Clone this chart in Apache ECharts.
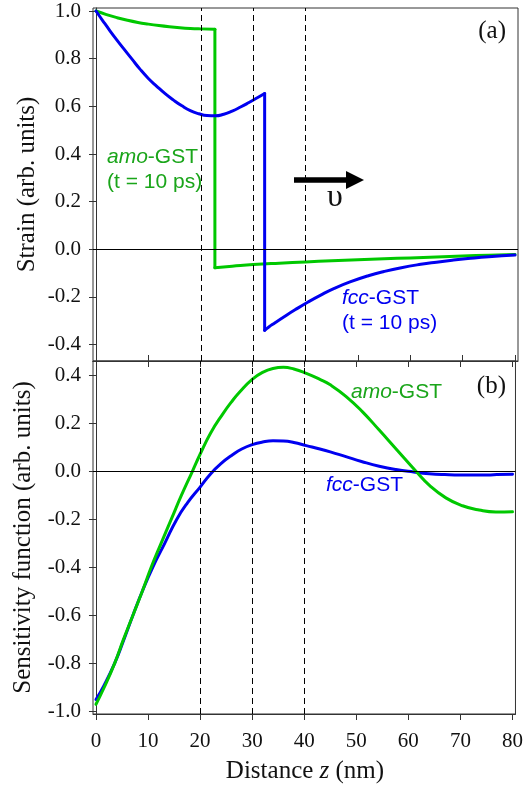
<!DOCTYPE html>
<html>
<head>
<meta charset="utf-8">
<script src="https://cdn.jsdelivr.net/npm/echarts@6/dist/echarts.min.js"></script>
<style>
html,body{margin:0;padding:0;background:#fff;}
#chart{width:526px;height:788px;}
</style>
</head>
<body>
<div id="chart"></div>
<script>
// ---- data ----
const xTicks = [0, 10, 20, 30, 40, 50, 60, 70, 80];
const strainTicks = [-0.4, -0.2, 0.0, 0.2, 0.4, 0.6, 0.8, 1.0];
const sensTicks = [-1.0, -0.8, -0.6, -0.4, -0.2, 0.0, 0.2, 0.4];
const dashX = [20, 30, 40];

// strain (a): before and after the front
const amoStrainFront = [
  [0, 1.000], [2, 0.985], [4, 0.972], [6, 0.961], [8, 0.952], [10, 0.945],
  [12, 0.939], [14, 0.934], [16, 0.930], [18, 0.927], [20, 0.925], [22.7, 0.923]
];
const amoStrainJump = [[22.7, 0.923], [22.7, -0.077]];
const amoStrainTail = [
  [22.7, -0.077], [26, -0.071], [30, -0.064], [35, -0.058], [40, -0.053],
  [45, -0.048], [50, -0.044], [55, -0.040], [60, -0.036], [65, -0.032],
  [70, -0.028], [75, -0.025], [80, -0.022]
];
const fccStrainFront = [
  [0, 1.000], [1.3, 0.959], [2.7, 0.916], [4, 0.878], [5.2, 0.844], [6.8, 0.800],
  [8.4, 0.756], [10, 0.717], [11.6, 0.684], [13.2, 0.653], [14.8, 0.626],
  [16.4, 0.602], [18, 0.582], [19.6, 0.569], [21.2, 0.561], [22.8, 0.560],
  [24.4, 0.567], [26, 0.580], [27.6, 0.597], [29.2, 0.616], [30.8, 0.636], [32.2, 0.654]
];
const fccStrainJump = [[32.2, 0.654], [32.2, -0.340]];
const fccStrainTail = [
  [32.2, -0.340], [33, -0.326], [34, -0.311], [36, -0.282], [38, -0.254],
  [40.5, -0.221], [43, -0.191], [45.5, -0.164], [48.5, -0.137], [52, -0.111],
  [55, -0.093], [58.3, -0.077], [62, -0.063], [65, -0.054], [68, -0.046],
  [71, -0.039], [75, -0.031], [80, -0.024]
];
// sensitivity function (b)
const amoSens = [
  [0, -0.972], [1.5, -0.905], [3.6, -0.800], [5.3, -0.700], [7.1, -0.600],
  [8.9, -0.500], [10.6, -0.400], [12.5, -0.300], [14.45, -0.200], [16.4, -0.100],
  [18.5, 0.000], [20, 0.072], [22, 0.160], [24.4, 0.242], [26, 0.290],
  [27.6, 0.332], [30, 0.385], [32, 0.414], [34, 0.430], [36, 0.435], [38, 0.428],
  [40.4, 0.410], [43, 0.385], [45, 0.362], [48, 0.314], [51.2, 0.249],
  [54.4, 0.173], [57.6, 0.095], [61.5, 0.000], [64, -0.057], [67.2, -0.110],
  [70.4, -0.143], [73.6, -0.161], [76.8, -0.169], [80, -0.168]
];
const fccSens = [
  [0, -0.952], [1.5, -0.895], [3.6, -0.800], [5.3, -0.705], [7.1, -0.600],
  [8.9, -0.500], [10.9, -0.400], [13.2, -0.300], [15.5, -0.200], [17.6, -0.130],
  [20, -0.065], [22, -0.010], [24, 0.033], [26.3, 0.071], [28, 0.094],
  [30, 0.112], [32, 0.123], [34, 0.128], [36, 0.127], [38, 0.121], [40.4, 0.108],
  [43, 0.094], [45, 0.082], [48, 0.062], [51, 0.042], [54.4, 0.022], [57.6, 0.008],
  [61, -0.002], [64, -0.009], [67, -0.013], [70, -0.015], [74, -0.015],
  [77, -0.013], [80, -0.011]
];

// ---- styling ----
const GREEN = '#00c800';
const GREEN_TXT = '#1aa51a';
const BLUE = '#0000f0';
const SERIF = '"Liberation Serif", "Times New Roman", serif';
const SANS = '"Liberation Sans", Arial, sans-serif';
const AX = '#333';

const chart = echarts.init(document.getElementById('chart'), null, {renderer: 'canvas'});

function yAxisCfg(gridIndex, min, max, ticks) {
  return {
    type: 'value', gridIndex, min, max,
    axisLine: {show: true, lineStyle: {color: AX, width: 1}},
    axisTick: {show: true, inside: false, length: 7, lineStyle: {color: AX}, customValues: ticks},
    axisLabel: {show: true, margin: 12, color: '#111', fontFamily: SERIF, fontSize: 21,
      customValues: ticks, formatter: v => (Math.abs(v) < 1e-9 ? 0 : v).toFixed(1)},
    splitLine: {show: false}
  };
}
function xAxisCfg(gridIndex, position, inside, showLabel) {
  return {
    type: 'value', gridIndex, position, min: -0.573, max: 80.573,
    axisLine: {show: true, onZero: false, lineStyle: {color: AX, width: 1}},
    axisTick: {show: true, inside, length: 6, lineStyle: {color: AX}, customValues: xTicks},
    axisLabel: {show: showLabel, margin: 17, color: '#111', fontFamily: SERIF, fontSize: 21,
      customValues: xTicks, formatter: v => String(Math.round(v))},
    splitLine: {show: false}
  };
}

function refLines(zeroY) {
  const data = dashX.map(x => ({xAxis: x, lineStyle: {type: [6, 4], color: '#000', width: 1}}));
  data.push({yAxis: zeroY, lineStyle: {type: 'solid', color: '#000', width: 1}});
  return {silent: true, symbol: ['none', 'none'], label: {show: false}, animation: false, data};
}

function curve(grid, data, color, smooth, extra) {
  return Object.assign({
    type: 'line', xAxisIndex: grid === 0 ? 0 : 1, yAxisIndex: grid, data,
    showSymbol: false, smooth, lineStyle: {color, width: 3, cap: 'round', join: 'round'}, z: 3
  }, extra || {});
}

const option = {
  animation: false,
  backgroundColor: '#fff',
  grid: [
    {left: 93, top: 8, width: 425, height: 353, show: true, borderColor: AX, borderWidth: 1, backgroundColor: 'transparent'},
    {left: 93, top: 361, width: 425, height: 353, show: true, borderColor: AX, borderWidth: 1, backgroundColor: 'transparent'}
  ],
  xAxis: [
    xAxisCfg(0, 'bottom', true, false),
    xAxisCfg(1, 'bottom', false, true),
    xAxisCfg(1, 'top', true, false)
  ],
  yAxis: [
    yAxisCfg(0, -0.4687, 1.0126, strainTicks),
    yAxisCfg(1, -1.0125, 0.4614, sensTicks)
  ],
  series: [
    curve(0, amoStrainFront, GREEN, 0.5, {markLine: refLines(0)}),
    curve(0, amoStrainJump, GREEN, false),
    curve(0, amoStrainTail, GREEN, 0.5),
    curve(0, fccStrainFront, BLUE, 0.5),
    curve(0, fccStrainJump, BLUE, false),
    curve(0, fccStrainTail, BLUE, 0.5),
    curve(1, fccSens, BLUE, 0.5, {markLine: refLines(0)}),
    curve(1, amoSens, GREEN, 0.5, {z: 4})
  ],
  graphic: [
    {type: 'text', x: 27, y: 184.5, rotation: Math.PI / 2,
     style: {text: 'Strain (arb. units)', font: '25px ' + SERIF, fill: '#111', align: 'center', verticalAlign: 'middle'}},
    {type: 'text', x: 23, y: 537.5, rotation: Math.PI / 2,
     style: {text: 'Sensitivity function (arb. units)', font: '25px ' + SERIF, fill: '#111', align: 'center', verticalAlign: 'middle'}},
    {type: 'text', x: 305, y: 771,
     style: {text: 'Distance {i|z} (nm)', font: '25px ' + SERIF, fill: '#111', align: 'center', verticalAlign: 'middle',
       rich: {i: {fontStyle: 'italic', font: 'italic 25px ' + SERIF, fill: '#111'}}}},
    {type: 'text', x: 506, y: 31,
     style: {text: '(a)', font: '25px ' + SERIF, fill: '#111', align: 'right', verticalAlign: 'middle'}},
    {type: 'text', x: 506, y: 386,
     style: {text: '(b)', font: '25px ' + SERIF, fill: '#111', align: 'right', verticalAlign: 'middle'}},
    {type: 'text', x: 107, y: 157,
     style: {text: '{i|amo}-GST', font: '21px ' + SANS, fill: GREEN_TXT, align: 'left', verticalAlign: 'middle',
       rich: {i: {font: 'italic 21px ' + SANS, fill: GREEN_TXT}}}},
    {type: 'text', x: 107, y: 182,
     style: {text: '(t = 10 ps)', font: '21px ' + SANS, fill: GREEN_TXT, align: 'left', verticalAlign: 'middle'}},
    {type: 'text', x: 342, y: 298,
     style: {text: '{i|fcc}-GST', font: '21px ' + SANS, fill: BLUE, align: 'left', verticalAlign: 'middle',
       rich: {i: {font: 'italic 21px ' + SANS, fill: BLUE}}}},
    {type: 'text', x: 342, y: 323,
     style: {text: '(t = 10 ps)', font: '21px ' + SANS, fill: BLUE, align: 'left', verticalAlign: 'middle'}},
    {type: 'text', x: 351, y: 392,
     style: {text: '{i|amo}-GST', font: '21px ' + SANS, fill: GREEN_TXT, align: 'left', verticalAlign: 'middle',
       rich: {i: {font: 'italic 21px ' + SANS, fill: GREEN_TXT}}}},
    {type: 'text', x: 326, y: 485,
     style: {text: '{i|fcc}-GST', font: '21px ' + SANS, fill: BLUE, align: 'left', verticalAlign: 'middle',
       rich: {i: {font: 'italic 21px ' + SANS, fill: BLUE}}}},
    // velocity arrow
    {type: 'line', shape: {x1: 294, y1: 180, x2: 349, y2: 180}, style: {stroke: '#000', lineWidth: 5.5}},
    {type: 'polygon', shape: {points: [[346, 171], [364, 180], [346, 189]]}, style: {fill: '#000'}},
    {type: 'text', x: 335, y: 198,
     style: {text: 'υ', font: '32px ' + SERIF, fill: '#111', align: 'center', verticalAlign: 'middle'}}
  ]
};
chart.setOption(option);
</script>
</body>
</html>
